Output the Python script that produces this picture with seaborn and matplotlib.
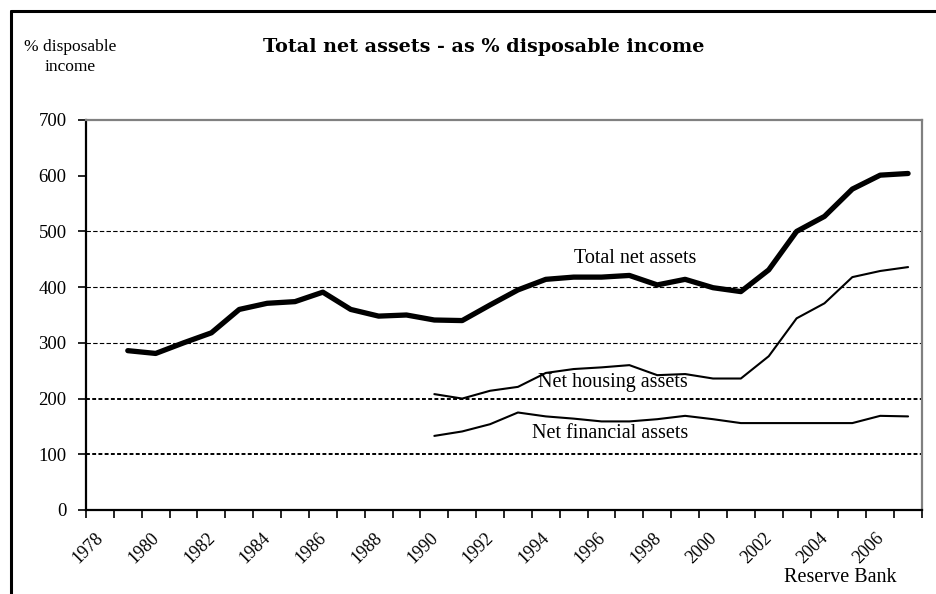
import numpy as np
import pandas as pd
import matplotlib
matplotlib.use("Agg")
import matplotlib.pyplot as plt
from matplotlib.lines import Line2D
import matplotlib.transforms as mtransforms
import seaborn as sns

# ---- data ----
years_total = list(range(1979, 2008))
total_net = [286, 281, 300, 318, 360, 371, 374, 391, 360, 348, 350, 341, 340,
             368, 395, 414, 418, 418, 421, 404, 414, 399, 392, 431, 500, 527,
             576, 601, 604]
years_sub = list(range(1990, 2008))
net_housing = [208, 200, 214, 221, 246, 253, 256, 260, 242, 244, 236, 236, 276,
               344, 371, 418, 429, 436]
net_financial = [133, 141, 154, 175, 168, 164, 159, 159, 163, 169, 163, 156, 156,
                 156, 156, 156, 169, 168]
year_labels = list(range(1978, 2008, 2))
y_ticks = [0, 100, 200, 300, 400, 500, 600, 700]
grid_strong = [100, 200]
grid_light = [300, 400, 500]

df_total = pd.DataFrame({"year": years_total, "value": total_net})
df_house = pd.DataFrame({"year": years_sub, "value": net_housing})
df_fin = pd.DataFrame({"year": years_sub, "value": net_financial})

sns.set_style("white")
serif = ["Liberation Serif", "DejaVu Serif"]
plt.rcParams["font.family"] = serif
plt.rcParams["text.color"] = "black"
plt.rcParams["xtick.color"] = "black"
plt.rcParams["ytick.color"] = "black"

fig = plt.figure(figsize=(9.36, 5.94), dpi=100)
ax = fig.add_axes([86 / 936, 1 - 510 / 594, (922 - 86) / 936, (510 - 120) / 594])

for v in grid_strong:
    ax.axhline(v, color="black", lw=1.4, ls=(0, (2, 1.2)), zorder=1)
for v in grid_light:
    ax.axhline(v, color="black", lw=0.8, ls=(0, (4, 2)), zorder=1)

sns.lineplot(data=df_total, x="year", y="value", ax=ax, color="black", lw=3.8, zorder=3)
sns.lineplot(data=df_house, x="year", y="value", ax=ax, color="black", lw=1.5, zorder=3)
sns.lineplot(data=df_fin, x="year", y="value", ax=ax, color="black", lw=1.5, zorder=3)

ax.set_xlim(1977.5, 2007.5)
ax.set_ylim(0, 700)
ax.set_xlabel("")
ax.set_ylabel("")

# spines
for s in ["left", "bottom"]:
    ax.spines[s].set_color("black")
    ax.spines[s].set_linewidth(1.6)
for s in ["top", "right"]:
    ax.spines[s].set_color("#808080")
    ax.spines[s].set_linewidth(1.6)
    ax.spines[s].set_visible(True)

# x ticks: boundaries as major ticks, labels as minor ticks
ax.set_xticks(np.arange(1977.5, 2008.0, 1.0))
ax.set_xticklabels([])
ax.tick_params(axis="x", which="major", length=6, width=1.2, color="black", direction="out", bottom=True)
ax.set_xticks(year_labels, minor=True)
ax.set_xticklabels([str(y) for y in year_labels], minor=True, rotation=45,
                   ha="right", va="top", rotation_mode="anchor", fontsize=13)
ax.tick_params(axis="x", which="minor", length=0, pad=14)
offset = mtransforms.ScaledTranslation(-5 / 100, 0, fig.dpi_scale_trans)
for lab in ax.get_xticklabels(minor=True):
    lab.set_transform(lab.get_transform() + offset)

ax.set_yticks(y_ticks)
ax.set_yticklabels([str(v) for v in y_ticks], fontsize=13.5)
ax.tick_params(axis="y", length=6, width=1.2, color="black", direction="out", left=True, pad=8)

# texts
fig.text(484 / 936, 1 - 47 / 594, "Total net assets - as % disposable income",
         ha="center", va="center", fontsize=13.8, fontweight="bold", family=["DejaVu Serif"])
fig.text(70 / 936, 1 - 57 / 594, "% disposable\nincome", ha="center", va="center",
         fontsize=12.5, linespacing=1.3)
ax.text(1997.2, 452, "Total net assets", ha="center", va="center", fontsize=14.5)
ax.text(1996.4, 228, "Net housing assets", ha="center", va="center", fontsize=14.5)
ax.text(1996.3, 138, "Net financial assets", ha="center", va="center", fontsize=14.5)
fig.text(840 / 936, 1 - 577 / 594, "Reserve Bank", ha="center", va="center", fontsize=14.5)

# outer frame lines (left and top)
fig.add_artist(Line2D([11 / 936, 11 / 936], [0, 1 - 11 / 594], color="black", lw=2.2,
                      transform=fig.transFigure))
fig.add_artist(Line2D([11 / 936, 1], [1 - 11 / 594, 1 - 11 / 594], color="black", lw=2.2,
                      transform=fig.transFigure))

fig.savefig("out.png", dpi=100)
